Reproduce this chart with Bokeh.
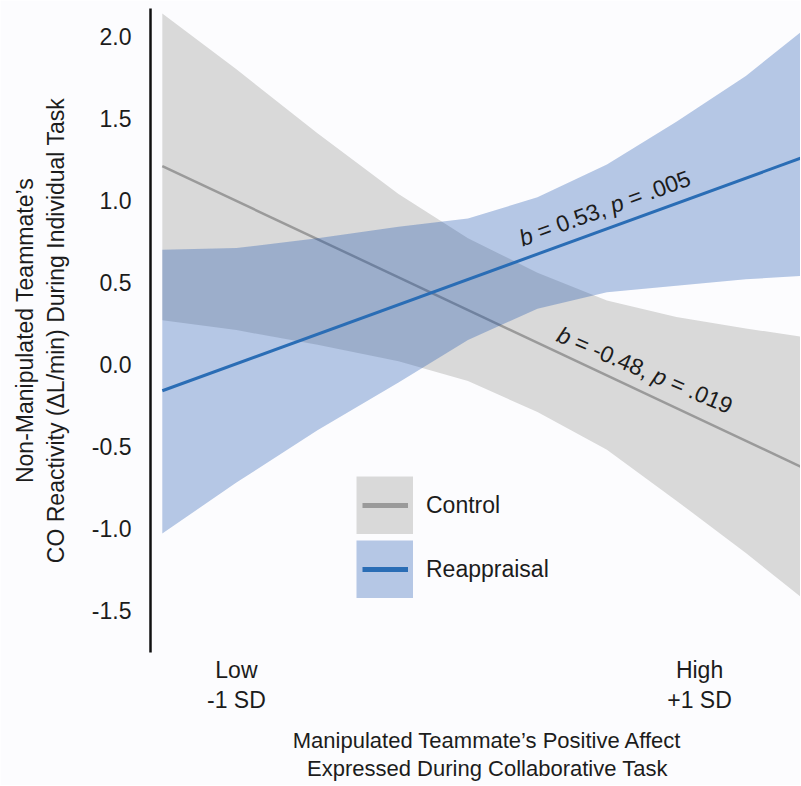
import math
from bokeh.plotting import figure
from bokeh.models import Range1d, FixedTicker, Legend, LegendItem, Label, LinearAxis
from bokeh.embed import file_html
from bokeh.resources import INLINE

# ---- data ----
x_grid = [-1.32, -1.0, -0.65, -0.3, 0.0, 0.3, 0.6, 0.9, 1.2, 1.44]
ctrl_upper = [2.14, 1.80, 1.41, 1.04, 0.77, 0.56, 0.39, 0.29, 0.22, 0.17]
ctrl_lower = [0.27, 0.21, 0.12, 0.02, -0.10, -0.29, -0.52, -0.83, -1.15, -1.42]
reap_upper = [0.70, 0.71, 0.77, 0.84, 0.89, 1.02, 1.22, 1.48, 1.76, 2.03]
reap_lower = [-1.03, -0.72, -0.40, -0.11, 0.15, 0.34, 0.44, 0.48, 0.52, 0.54]

line_x = [-1.32, 1.44]
ctrl_fit = [1.21, -0.625]
reap_fit = [-0.16, 1.26]

y_ticks = [-1.5, -1.0, -0.5, 0.0, 0.5, 1.0, 1.5, 2.0]
y_tick_labels = ["-1.5", "-1.0", "-0.5", "0.0", "0.5", "1.0", "1.5", "2.0"]
x_ticks = [-1, 1]
x_tick_labels_1 = ["Low", "High"]
x_tick_labels_2 = ["-1 SD", "+1 SD"]

series_names = ["Control", "Reappraisal"]
x_title_lines = ["Manipulated Teammate\u2019s Positive Affect", "Expressed During Collaborative Task"]
x_title_pos = 0.084
y_title = "Non-Manipulated Teammate\u2019s\nCO Reactivity (\u0394L/min) During Individual Task"

FONT = "Liberation Sans"
FS = "23px"
TXT = "#1c1c1c"
GRAY_BAND = "#d9d9d9"
GRAY_LINE = "#9a9a9a"
BLUE_BAND = "#114dad"
BLUE_LINE = "#2a6db5"
BG = "#fcfcfe"
NAN = float("nan")

p = figure(width=800, height=785, output_backend="svg", toolbar_location=None,
           x_range=Range1d(-1.371, 1.436), y_range=Range1d(-1.756, 2.171),
           min_border_left=150, min_border_right=0, min_border_top=8,
           min_border_bottom=133)
p.background_fill_color = BG
p.border_fill_color = BG
p.outline_line_color = None
p.grid.visible = False

# bands and lines
p.varea(x=x_grid, y1=ctrl_lower, y2=ctrl_upper, fill_color=GRAY_BAND, fill_alpha=1.0)
p.line(x=line_x, y=ctrl_fit, line_color=GRAY_LINE, line_width=2.5)
p.varea(x=x_grid, y1=reap_lower, y2=reap_upper, fill_color=BLUE_BAND, fill_alpha=0.3)
p.line(x=line_x, y=reap_fit, line_color=BLUE_LINE, line_width=3)

# legend proxies (a single NaN row: nothing is drawn in the plot)
lg_c_swatch = p.line(x=[NAN], y=[NAN], line_color=GRAY_BAND, line_width=58, line_cap="butt")
lg_r_swatch = p.line(x=[NAN], y=[NAN], line_color=BLUE_BAND, line_alpha=0.3, line_width=58, line_cap="butt")
lg_c_line = p.line(x=[NAN], y=[NAN], line_color=GRAY_LINE, line_width=5)
lg_r_line = p.line(x=[NAN], y=[NAN], line_color=BLUE_LINE, line_width=5)

# legend: swatches + labels
legend_a = Legend(items=[LegendItem(label=series_names[0], renderers=[lg_c_swatch]),
                         LegendItem(label=series_names[1], renderers=[lg_r_swatch])],
                  location=(206, 54), glyph_width=57, glyph_height=58, spacing=6,
                  label_standoff=13, padding=0, margin=0,
                  border_line_color=None, background_fill_alpha=0,
                  label_text_font=FONT, label_text_font_size=FS,
                  label_text_color=TXT)
# legend: short lines inside the swatches
legend_b = Legend(items=[LegendItem(label=" ", renderers=[lg_c_line]),
                         LegendItem(label=" ", renderers=[lg_r_line])],
                  location=(212, 51), glyph_width=46, glyph_height=64, spacing=0,
                  label_standoff=0, padding=0, margin=0,
                  border_line_color=None, background_fill_alpha=0,
                  label_text_font_size="10px")
p.add_layout(legend_a, "center")
p.add_layout(legend_b, "center")

# y axis
ya = p.yaxis[0]
ya.ticker = FixedTicker(ticks=y_ticks)
ya.major_label_overrides = {t: l for t, l in zip(y_ticks, y_tick_labels)}
ya.axis_line_color = "#111111"
ya.axis_line_width = 2.5
ya.major_tick_line_color = None
ya.minor_tick_line_color = None
ya.major_tick_out = 0
ya.minor_tick_out = 0
ya.major_label_text_font = FONT
ya.major_label_text_font_size = FS
ya.major_label_text_color = TXT
ya.major_label_standoff = 19
ya.axis_label = y_title
ya.axis_label_text_font = FONT
ya.axis_label_text_font_size = FS
ya.axis_label_text_font_style = "normal"
ya.axis_label_text_color = TXT
ya.axis_label_standoff = 20

def text_axis(ticks, labels, standoff, size=FS):
    ax = LinearAxis(ticker=FixedTicker(ticks=ticks),
                    major_label_overrides={t: l for t, l in zip(ticks, labels)},
                    axis_line_color=None, major_tick_line_color=None,
                    minor_tick_line_color=None, major_tick_out=0, minor_tick_out=0,
                    major_label_text_font=FONT, major_label_text_font_size=size,
                    major_label_text_color=TXT, major_label_standoff=standoff)
    return ax

# x axis: first row of tick labels on the default axis
xa = p.xaxis[0]
xa.ticker = FixedTicker(ticks=x_ticks)
xa.major_label_overrides = {t: l for t, l in zip(x_ticks, x_tick_labels_1)}
xa.axis_line_color = None
xa.major_tick_line_color = None
xa.minor_tick_line_color = None
xa.major_tick_out = 0
xa.minor_tick_out = 0
xa.major_label_text_font = FONT
xa.major_label_text_font_size = FS
xa.major_label_text_color = TXT
xa.major_label_standoff = 4

p.add_layout(text_axis(x_ticks, x_tick_labels_2, 1), "below")
p.add_layout(text_axis([x_title_pos], [x_title_lines[0]], 12, "22px"), "below")
p.add_layout(text_axis([x_title_pos], [x_title_lines[1]], 0, "22px"), "below")

# slope annotations with italic b and p
ANN = 23
CW = {" ": 0.278, "=": 0.584, ".": 0.278, ",": 0.278, "-": 0.333}
def tw(s):
    return sum(CW.get(ch, 0.556) for ch in s) * ANN

def slope_label(x, y, angle_deg, parts):
    a = math.radians(angle_deg)
    cum = 0.0
    for txt, ital in parts:
        core = txt.strip()
        lead = txt[:len(txt) - len(txt.lstrip())]
        cum += tw(lead)
        p.add_layout(Label(x=x, y=y, x_offset=cum * math.cos(a), y_offset=cum * math.sin(a),
                           text=core, angle=a, text_font=FONT, text_font_size=f"{ANN}px",
                           text_font_style="italic" if ital else "normal",
                           text_color=TXT, text_align="left", text_baseline="alphabetic"))
        cum += tw(txt.lstrip())

slope_label(0.225, 0.766, 20, [("b", True), (" = 0.53, ", False), ("p", True), (" = .005", False)])
slope_label(0.39, 0.19, -23, [("b", True), (" = -0.48, ", False), ("p", True), (" = .019", False)])

open("out.html", "w").write(file_html(p, INLINE))
